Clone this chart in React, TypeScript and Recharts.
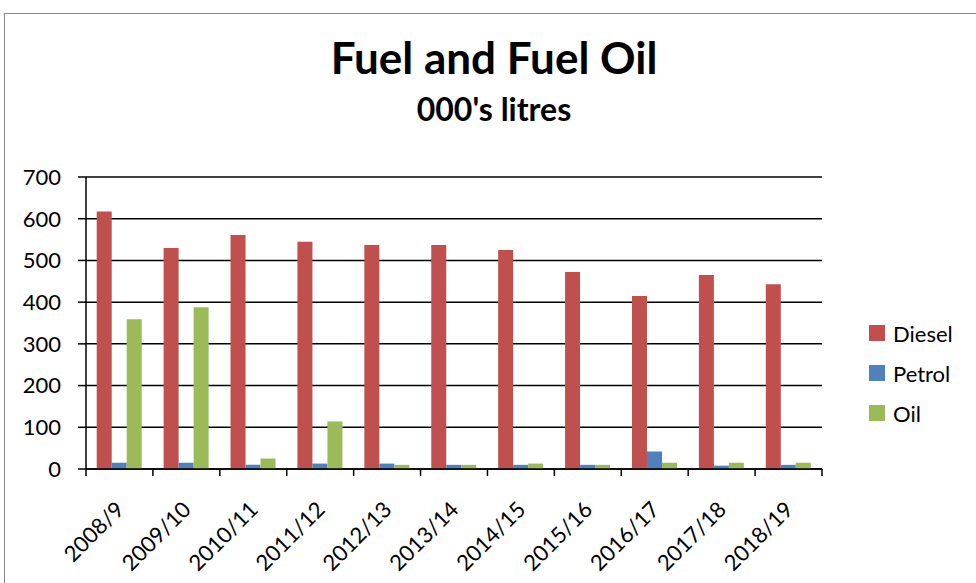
import { BarChart, Bar, XAxis, YAxis, CartesianGrid } from 'recharts';

const years = ['2008/9', '2009/10', '2010/11', '2011/12', '2012/13', '2013/14', '2014/15', '2015/16', '2016/17', '2017/18', '2018/19'];
const diesel = [617, 530, 561, 545, 537, 537, 525, 472, 415, 465, 443];
const petrol = [15, 15, 10, 13, 13, 10, 10, 10, 42, 8, 10];
const oil = [359, 388, 25, 114, 10, 10, 13, 10, 15, 15, 15];
const yTicks = [0, 100, 200, 300, 400, 500, 600, 700];

const series = [
  { key: 'Diesel', color: '#C0504D' },
  { key: 'Petrol', color: '#4F81BD' },
  { key: 'Oil', color: '#9BBB59' },
];

const data = years.map((year, i) => ({
  year,
  Diesel: diesel[i],
  Petrol: petrol[i],
  Oil: oil[i],
}));

const FONT = 'Lato, "Open Sans", sans-serif';
const BAND = (822 - 86) / years.length;

function XTick(props: any) {
  const { x, y, payload, index } = props;
  const left = x - BAND / 2;
  const tx = x + 6;
  const ty = y + 34;
  return (
    <g>
      <line x1={left} y1={y - 8} x2={left} y2={y - 1} stroke="#000" strokeWidth={1.5} />
      {index === years.length - 1 && (
        <line x1={x + BAND / 2} y1={y - 8} x2={x + BAND / 2} y2={y - 1} stroke="#000" strokeWidth={1.5} />
      )}
      <text
        x={tx}
        y={ty}
        transform={`rotate(-45, ${tx}, ${ty})`}
        textAnchor="end"
        fontSize={22}
        fontFamily={FONT}
        fill="#000"
      >
        {payload.value}
      </text>
    </g>
  );
}

function LegendBox() {
  return (
    <div style={{ position: 'absolute', left: 869, top: 313, fontFamily: FONT, fontSize: 22, color: '#000' }}>
      {series.map((s) => (
        <div key={s.key} style={{ display: 'flex', alignItems: 'center', height: 40 }}>
          <span style={{ width: 16, height: 16, background: s.color, marginRight: 8, display: 'inline-block' }} />
          <span>{s.key}</span>
        </div>
      ))}
    </div>
  );
}

export default function App() {
  return (
    <div style={{ position: 'absolute', left: 0, top: 0, width: 976, height: 583, overflow: 'hidden', background: '#fff' }}>
      <div style={{ position: 'absolute', left: 4, top: 13, width: 1100, height: 700, border: '1.5px solid #888' }} />
      <div style={{ position: 'absolute', left: 0, top: 31, width: 988, textAlign: 'center', fontFamily: FONT, fontWeight: 700, fontSize: 44, color: '#000' }}>
        Fuel and Fuel Oil
      </div>
      <div style={{ position: 'absolute', left: 0, top: 89, width: 988, textAlign: 'center', fontFamily: FONT, fontWeight: 700, fontSize: 32, color: '#000' }}>
        000's litres
      </div>
      <div style={{ position: 'absolute', left: 0, top: 0 }}>
        <BarChart
          width={976}
          height={583}
          data={data}
          margin={{ top: 177, right: 154, bottom: 0, left: 0 }}
          barCategoryGap="16%"
          barGap={0}
        >
          <CartesianGrid vertical={false} stroke="#000" strokeWidth={1.5} />
          <XAxis
            dataKey="year"
            height={114}
            axisLine={{ stroke: '#000', strokeWidth: 1.5 }}
            tickLine={false}
            tick={<XTick />}
            interval={0}
          />
          <YAxis
            width={86}
            domain={[0, 700]}
            ticks={yTicks}
            interval={0}
            axisLine={{ stroke: '#000', strokeWidth: 1.5 }}
            tickLine={{ stroke: '#000', strokeWidth: 1.5 }}
            tickSize={8}
            tickMargin={17}
            tick={{ fontSize: 22, fontFamily: FONT, fill: '#000' }}
          />
          {series.map((s) => (
            <Bar key={s.key} dataKey={s.key} fill={s.color} isAnimationActive={false} />
          ))}
        </BarChart>
      </div>
      <LegendBox />
    </div>
  );
}
